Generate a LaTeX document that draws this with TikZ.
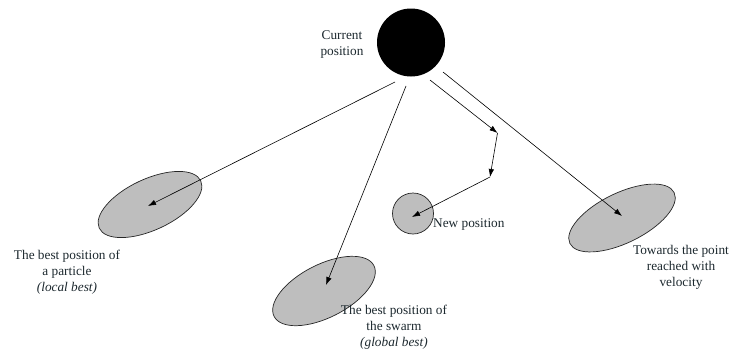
\documentclass[tikz,border=0pt]{standalone}
\usepackage{fontspec}
\setmainfont{Liberation Serif}
\newfontfamily\labelfont{Liberation Serif}
\usetikzlibrary{shapes.geometric,arrows.meta}
\definecolor{ink}{RGB}{28,40,46}
\definecolor{region}{RGB}{190,190,190}
\begin{document}
\begin{tikzpicture}[x=1pt,y=-1pt,
  txt/.style={text=ink,font=\labelfont\fontsize{13.3}{15.8}\selectfont,align=center,inner sep=0pt},
  zone/.style={ellipse,draw=black!85,fill=region,line width=0.7pt,inner sep=0pt},
  move/.style={draw=black,line width=0.6pt,-{Latex[length=8pt,width=5.5pt]}}]
\useasboundingbox (0,0) rectangle (730,351);

% particle and its current position
\node[circle,fill=black,minimum size=68pt,inner sep=0pt] (cur) at (411,42.5) {};
\node[txt] (curlbl) at (342,44.5) {Current\\position};

% candidate regions
\node[zone,minimum width=112pt,minimum height=51pt,rotate=25] (loc) at (150,204.5) {};
\node[zone,minimum width=112pt,minimum height=53pt,rotate=27] (glob) at (324,291) {};
\node[zone,minimum width=116pt,minimum height=50pt,rotate=26] (vel) at (622,218) {};
\node[circle,draw=black!85,fill=region,line width=0.7pt,minimum size=41pt,inner sep=0pt] (newp) at (413,213.5) {};

% labels
\node[txt] (loclbl) at (67,272.5) {The best position of\\a particle\\\textit{(local best)}};
\node[txt] (globlbl) at (394,327) {The best position of\\the swarm\\\textit{(global best)}};
\node[txt] (vellbl) at (681,267.5) {Towards the point\\reached with\\velocity};
\node[txt,anchor=west] (newlbl) at (433,225) {New position};

% start points of the moves, just off the particle
\coordinate (s1) at (395,82);
\coordinate (s2) at (406,86);
\coordinate (s3) at (430,80);
\coordinate (s4) at (443,72);
\coordinate (v1) at (497.5,133);
\coordinate (v2) at (490,177);

\draw[move] (s1) -- ([shift={(-2,1.5)}]loc.center);
\draw[move] (s2) -- ([shift={(2,-6)}]glob.center);
\draw[move] (s3) -- (v1);
\draw[move] (v1) -- (v2);
\draw[move] (v2) -- ([shift={(-1,3.5)}]newp.center);
\draw[move] (s4) -- ([shift={(0,-2)}]vel.center);
\end{tikzpicture}
\end{document}
